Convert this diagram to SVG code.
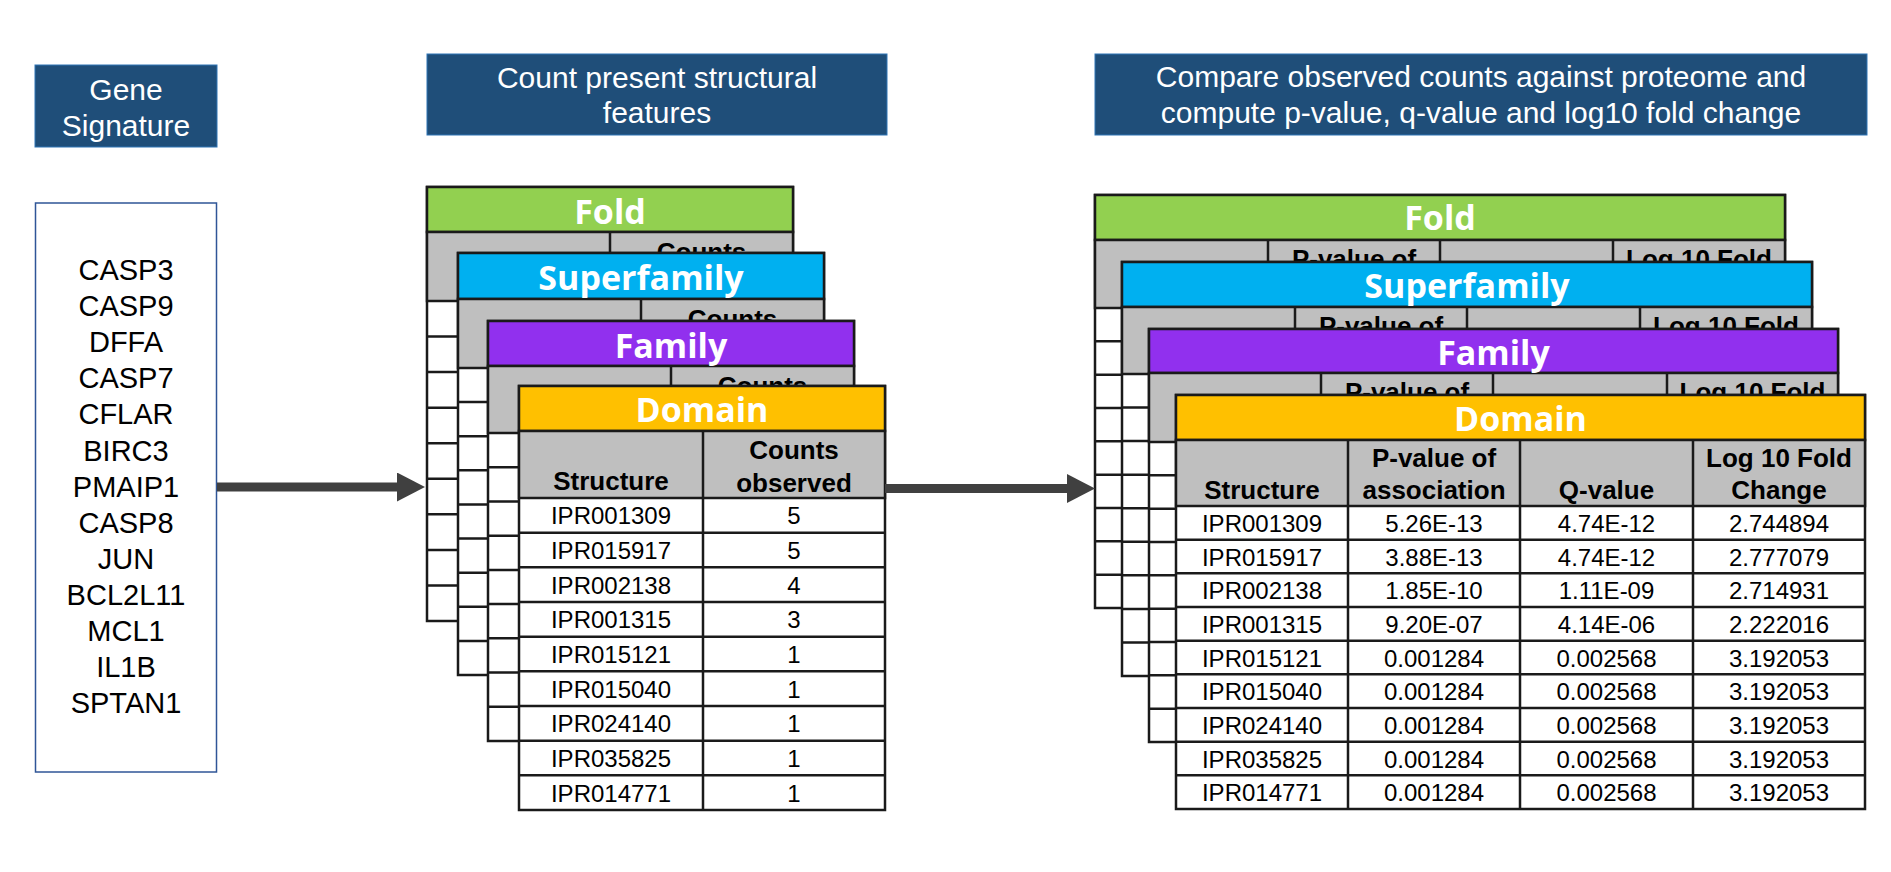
<svg xmlns="http://www.w3.org/2000/svg" width="1891" height="872" viewBox="0 0 1891 872">
<style>
.hdr{fill:#1f4e79;stroke:#2e75b6;stroke-width:1}
.ht{font-family:"Liberation Sans",Arial,sans-serif;font-size:30px;fill:#fff;text-anchor:middle}
.gene{font-family:"Liberation Sans",Arial,sans-serif;font-size:29px;fill:#000;text-anchor:middle}
.tb{fill:#fff;stroke:#1a1a1a;stroke-width:2.5}
.gr{fill:#bfbfbf;stroke:#1a1a1a;stroke-width:2.5}
.ln{fill:none;stroke:#1a1a1a;stroke-width:2.5}
.band{stroke:#1a1a1a;stroke-width:2.5}
.fold{fill:#92d050}.sf{fill:#00b0f0}.fam{fill:#9130ee}.dom{fill:#ffc000}
.bt{font-family:"Open Sans",sans-serif;font-weight:700;font-size:34px;fill:#fff;text-anchor:middle}
.th{font-family:"Liberation Sans",Arial,sans-serif;font-weight:700;font-size:26px;fill:#000;text-anchor:middle}
.td{font-family:"Liberation Sans",Arial,sans-serif;font-size:24px;fill:#000;text-anchor:middle}
.conn{stroke:#404040;stroke-width:9;fill:none}
</style>
<defs>
<marker id="ah" markerUnits="userSpaceOnUse" markerWidth="28" markerHeight="29" viewBox="0 0 28 29" refX="0" refY="14.5" orient="auto">
<path d="M0,0 L28,14.5 L0,29 z" fill="#404040"/>
</marker>
</defs>

<g id="gene-signature-header">
<rect class="hdr" x="35" y="65" width="182" height="82"/>
<text class="ht" x="126" y="99.5">Gene</text>
<text class="ht" x="126" y="135.5">Signature</text>
</g>

<g id="gene-list">
<rect x="35.5" y="203" width="181" height="569" fill="#fff" stroke="#2f5597" stroke-width="1.5"/>
<text class="gene" x="126" y="280">CASP3</text>
<text class="gene" x="126" y="316.1">CASP9</text>
<text class="gene" x="126" y="352.2">DFFA</text>
<text class="gene" x="126" y="388.3">CASP7</text>
<text class="gene" x="126" y="424.4">CFLAR</text>
<text class="gene" x="126" y="460.5">BIRC3</text>
<text class="gene" x="126" y="496.6">PMAIP1</text>
<text class="gene" x="126" y="532.7">CASP8</text>
<text class="gene" x="126" y="568.8">JUN</text>
<text class="gene" x="126" y="604.9">BCL2L11</text>
<text class="gene" x="126" y="641">MCL1</text>
<text class="gene" x="126" y="677.1">IL1B</text>
<text class="gene" x="126" y="713.2">SPTAN1</text>
</g>

<g id="count-header">
<rect class="hdr" x="427" y="54" width="460" height="81"/>
<text class="ht" x="657" y="88">Count present structural</text>
<text class="ht" x="657" y="123">features</text>
</g>

<g id="compare-header">
<rect class="hdr" x="1095" y="54" width="772" height="81"/>
<text class="ht" x="1481" y="87">Compare observed counts against proteome and</text>
<text class="ht" x="1481" y="122.5">compute p-value, q-value and log10 fold change</text>
</g>

<g id="count-fold">
<rect class="tb" x="427" y="187" width="366" height="434"/>
<rect class="band fold" x="427" y="187" width="366" height="45"/>
<rect class="gr" x="427" y="232" width="366" height="69"/>
<path class="ln" d="M427,336.6H793M427,372.1H793M427,407.7H793M427,443.2H793M427,478.8H793M427,514.3H793M427,549.9H793M427,585.4H793M610,232V621"/>
<text class="bt" x="610" y="224">Fold</text>
<text class="th" x="701.5" y="260.5">Counts</text>
</g>

<g id="count-superfamily">
<rect class="tb" x="458" y="253" width="366" height="422"/>
<rect class="band sf" x="458" y="253" width="366" height="46"/>
<rect class="gr" x="458" y="299" width="366" height="69"/>
<path class="ln" d="M458,402.1H824M458,436.2H824M458,470.3H824M458,504.4H824M458,538.6H824M458,572.7H824M458,606.8H824M458,640.9H824M641,299V675"/>
<text class="bt" x="641" y="290">Superfamily</text>
<text class="th" x="732.5" y="327.5">Counts</text>
</g>

<g id="count-family">
<rect class="tb" x="488" y="321" width="366" height="420"/>
<rect class="band fam" x="488" y="321" width="366" height="45"/>
<rect class="gr" x="488" y="366" width="366" height="67"/>
<path class="ln" d="M488,467.2H854M488,501.4H854M488,535.7H854M488,569.9H854M488,604.1H854M488,638.3H854M488,672.6H854M488,706.8H854M671,366V741"/>
<text class="bt" x="671" y="358">Family</text>
<text class="th" x="762.5" y="394.5">Counts</text>
</g>

<g id="count-domain">
<rect class="tb" x="519" y="386" width="366" height="424"/>
<rect class="band dom" x="519" y="386" width="366" height="45"/>
<rect class="gr" x="519" y="431" width="366" height="67"/>
<path class="ln" d="M519,532.7H885M519,567.3H885M519,602H885M519,636.7H885M519,671.3H885M519,706H885M519,740.7H885M519,775.3H885M703,431V810"/>
<text class="bt" x="702" y="422">Domain</text>
<text class="th" x="611" y="490">Structure</text>
<text class="th" x="794" y="459">Counts</text>
<text class="th" x="794" y="491.5">observed</text>
<text class="td" x="611" y="524.3">IPR001309</text><text class="td" x="794" y="524.3">5</text>
<text class="td" x="611" y="559">IPR015917</text><text class="td" x="794" y="559">5</text>
<text class="td" x="611" y="593.7">IPR002138</text><text class="td" x="794" y="593.7">4</text>
<text class="td" x="611" y="628.3">IPR001315</text><text class="td" x="794" y="628.3">3</text>
<text class="td" x="611" y="663">IPR015121</text><text class="td" x="794" y="663">1</text>
<text class="td" x="611" y="697.7">IPR015040</text><text class="td" x="794" y="697.7">1</text>
<text class="td" x="611" y="732.3">IPR024140</text><text class="td" x="794" y="732.3">1</text>
<text class="td" x="611" y="767">IPR035825</text><text class="td" x="794" y="767">1</text>
<text class="td" x="611" y="801.7">IPR014771</text><text class="td" x="794" y="801.7">1</text>
</g>

<g id="enrich-fold">
<rect class="tb" x="1095" y="195" width="690" height="413"/>
<rect class="band fold" x="1095" y="195" width="690" height="45"/>
<rect class="gr" x="1095" y="240" width="690" height="68"/>
<path class="ln" d="M1095,341.3H1785M1095,374.7H1785M1095,408H1785M1095,441.3H1785M1095,474.7H1785M1095,508H1785M1095,541.3H1785M1095,574.7H1785M1268,240V608M1440,240V608M1613,240V608"/>
<text class="bt" x="1440" y="230">Fold</text>
<text class="th" x="1354" y="268">P-value of</text>
<text class="th" x="1699" y="268">Log 10 Fold</text>
</g>

<g id="enrich-superfamily">
<rect class="tb" x="1122" y="262" width="690" height="414"/>
<rect class="band sf" x="1122" y="262" width="690" height="45"/>
<rect class="gr" x="1122" y="307" width="690" height="67"/>
<path class="ln" d="M1122,407.6H1812M1122,441.1H1812M1122,474.7H1812M1122,508.2H1812M1122,541.8H1812M1122,575.3H1812M1122,608.9H1812M1122,642.4H1812M1295,307V676M1467,307V676M1640,307V676"/>
<text class="bt" x="1467" y="298">Superfamily</text>
<text class="th" x="1381" y="335">P-value of</text>
<text class="th" x="1726" y="335">Log 10 Fold</text>
</g>

<g id="enrich-family">
<rect class="tb" x="1149" y="329" width="689" height="413"/>
<rect class="band fam" x="1149" y="329" width="689" height="44"/>
<rect class="gr" x="1149" y="373" width="689" height="69"/>
<path class="ln" d="M1149,475.3H1838M1149,508.7H1838M1149,542H1838M1149,575.3H1838M1149,608.7H1838M1149,642H1838M1149,675.3H1838M1149,708.7H1838M1321,373V742M1493,373V742M1667,373V742"/>
<text class="bt" x="1493.5" y="365">Family</text>
<text class="th" x="1407" y="401">P-value of</text>
<text class="th" x="1752.5" y="401">Log 10 Fold</text>
</g>

<g id="enrich-domain">
<rect class="tb" x="1176" y="395" width="689" height="414"/>
<rect class="band dom" x="1176" y="395" width="689" height="45"/>
<rect class="gr" x="1176" y="440" width="689" height="66"/>
<path class="ln" d="M1176,539.7H1865M1176,573.3H1865M1176,607H1865M1176,640.7H1865M1176,674.3H1865M1176,708H1865M1176,741.7H1865M1176,775.3H1865M1348,440V809M1520,440V809M1693,440V809"/>
<text class="bt" x="1520.5" y="431">Domain</text>
<text class="th" x="1262" y="499">Structure</text>
<text class="th" x="1434" y="467">P-value of</text>
<text class="th" x="1434" y="499">association</text>
<text class="th" x="1606.5" y="499">Q-value</text>
<text class="th" x="1779" y="467">Log 10 Fold</text>
<text class="th" x="1779" y="499">Change</text>
<text class="td" x="1262" y="531.8">IPR001309</text><text class="td" x="1434" y="531.8">5.26E-13</text><text class="td" x="1606.5" y="531.8">4.74E-12</text><text class="td" x="1779" y="531.8">2.744894</text>
<text class="td" x="1262" y="565.5">IPR015917</text><text class="td" x="1434" y="565.5">3.88E-13</text><text class="td" x="1606.5" y="565.5">4.74E-12</text><text class="td" x="1779" y="565.5">2.777079</text>
<text class="td" x="1262" y="599.2">IPR002138</text><text class="td" x="1434" y="599.2">1.85E-10</text><text class="td" x="1606.5" y="599.2">1.11E-09</text><text class="td" x="1779" y="599.2">2.714931</text>
<text class="td" x="1262" y="632.8">IPR001315</text><text class="td" x="1434" y="632.8">9.20E-07</text><text class="td" x="1606.5" y="632.8">4.14E-06</text><text class="td" x="1779" y="632.8">2.222016</text>
<text class="td" x="1262" y="666.5">IPR015121</text><text class="td" x="1434" y="666.5">0.001284</text><text class="td" x="1606.5" y="666.5">0.002568</text><text class="td" x="1779" y="666.5">3.192053</text>
<text class="td" x="1262" y="700.2">IPR015040</text><text class="td" x="1434" y="700.2">0.001284</text><text class="td" x="1606.5" y="700.2">0.002568</text><text class="td" x="1779" y="700.2">3.192053</text>
<text class="td" x="1262" y="733.8">IPR024140</text><text class="td" x="1434" y="733.8">0.001284</text><text class="td" x="1606.5" y="733.8">0.002568</text><text class="td" x="1779" y="733.8">3.192053</text>
<text class="td" x="1262" y="767.5">IPR035825</text><text class="td" x="1434" y="767.5">0.001284</text><text class="td" x="1606.5" y="767.5">0.002568</text><text class="td" x="1779" y="767.5">3.192053</text>
<text class="td" x="1262" y="801.2">IPR014771</text><text class="td" x="1434" y="801.2">0.001284</text><text class="td" x="1606.5" y="801.2">0.002568</text><text class="td" x="1779" y="801.2">3.192053</text>
</g>

<g id="connectors">
<line class="conn" x1="217" y1="487" x2="397" y2="487" marker-end="url(#ah)"/>
<line class="conn" x1="885" y1="488.5" x2="1067" y2="488.5" marker-end="url(#ah)"/>
</g>
</svg>
